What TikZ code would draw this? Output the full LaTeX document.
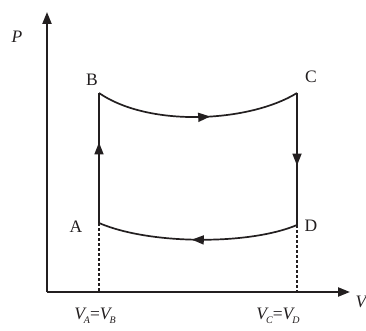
\documentclass[tikz,border=0pt]{standalone}
\usepackage{fontspec}
\setmainfont{Liberation Serif}
\usetikzlibrary{arrows.meta,decorations.markings}
\newcommand{\VSub}[1]{{\itshape V}\kern-1pt\raisebox{-3.5pt}{\fontsize{10}{10}\selectfont\itshape #1}}
\definecolor{ink}{HTML}{231F20}
\begin{document}
\begin{tikzpicture}[x=1pt,y=-1pt,
  axis/.style={draw=ink, line width=2.2pt, -{Triangle[length=12pt,width=9pt]}},
  proc/.style={draw=ink, line width=1.7pt},
  guide/.style={draw=ink, line width=1.9pt, dash pattern=on 3pt off 2pt},
  lbl/.style={text=ink, font=\fontsize{17.5}{17.5}\selectfont, inner sep=0pt},
  midarrow/.style={postaction={decorate}, decoration={markings,
     mark=at position #1 with {\arrow{Triangle[length=12pt,width=9pt]}}}}
]
\useasboundingbox[fill=white] (0,0) rectangle (366,331);
\coordinate (O) at (47,292);
\coordinate (Ytop) at (47,12);
\coordinate (Xend) at (350,292);
\coordinate (A) at (99,223);
\coordinate (B) at (99,93);
\coordinate (C) at (297,93);
\coordinate (D) at (297,225);
\coordinate (Ab) at (99,292);
\coordinate (Db) at (297,292);

\draw[axis] (O) -- (Ytop);
\draw[axis] (O) -- (Xend);

\draw[proc, midarrow=0.62] (A) -- (B);
\draw[proc, midarrow=0.56] (B) .. controls (150,128) and (250,122) .. (C);
\draw[proc, midarrow=0.55] (C) -- (D);
\draw[proc, midarrow=0.53] (D) .. controls (250,245) and (150,245) .. (A);

\draw[guide] (A) -- (Ab);
\draw[guide] (D) -- (Db);

\node[lbl] (lP) at (17,37) {\itshape P};
\node[lbl] (lV) at (361,302) {\itshape V};
\node[lbl] (lA) at (76,227) {A};
\node[lbl] (lB) at (92,80) {B};
\node[lbl] (lC) at (311,77) {C};
\node[lbl] (lD) at (311,226) {D};
\node[lbl] (lAB) at (95,316) {\VSub{A}=\VSub{B}};
\node[lbl] (lCD) at (278,316) {\VSub{C}=\VSub{D}};
\end{tikzpicture}
\end{document}
